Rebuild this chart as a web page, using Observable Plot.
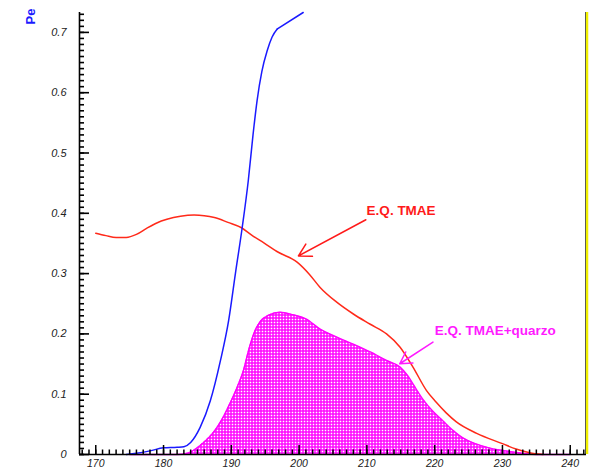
<!DOCTYPE html>
<html><head><meta charset="utf-8">
<script src="https://cdn.jsdelivr.net/npm/d3@7"></script>
<script src="https://cdn.jsdelivr.net/npm/@observablehq/plot@0.6"></script>
<style>body{margin:0;background:#fff}</style>
</head><body><div id="chart"></div>
<script>
// Axis configuration
const xDomain = [167.6, 242.4];
const yDomain = [0, 0.733];
const xMajor = [170, 180, 190, 200, 210, 220, 230, 240];
const xTickLabels = ["170", "180", "190", "200", "210", "220", "230", "240"];
const yMajor = [0, 0.1, 0.2, 0.3, 0.4, 0.5, 0.6, 0.7];
const yTickLabels = ["0", "0.1", "0.2", "0.3", "0.4", "0.5", "0.6", "0.7"];
const xMinor = d3.range(168, 243, 1);
const yMinor = d3.range(0, 74).map(i => i / 100);
const yLabel = "Pe";

// E.Q. TMAE (red)
const tmaeX = [170, 171.5, 173, 174.5, 176, 177.5, 179, 180.5, 182.5, 184.5, 186, 187.5, 189.5, 191.5, 193, 194.8, 197, 199.7, 201.5, 203.1, 205.5, 208, 210.5, 212.9, 214.9, 216.8, 218.8, 220.2, 221.7, 223.2, 226.2, 230, 232, 234, 236];
const tmaeY = [0.367, 0.363, 0.360, 0.360, 0.365, 0.375, 0.384, 0.390, 0.395, 0.397, 0.396, 0.393, 0.385, 0.376, 0.364, 0.351, 0.335, 0.319, 0.299, 0.277, 0.253, 0.233, 0.216, 0.200, 0.178, 0.145, 0.106, 0.087, 0.069, 0.054, 0.035, 0.018, 0.009, 0.003, 0];

// blue curve (smooth rise, then a straight segment after the knee)
const blueX = [174.5, 176, 178, 180, 182, 183, 184, 185.4, 186.9, 188.4, 189.6, 190.6, 191.6, 192.5, 193.2, 193.8, 194.5, 195.3, 196, 196.8];
const blueY = [0, 0.002, 0.006, 0.011, 0.012, 0.013, 0.020, 0.045, 0.089, 0.156, 0.222, 0.300, 0.376, 0.454, 0.530, 0.587, 0.635, 0.670, 0.692, 0.706];
const blueTailX = [196.8, 200.6];
const blueTailY = [0.706, 0.733];

// E.Q. TMAE+quarzo (magenta, hatched)
const quarzoX = [175, 180, 182, 183.5, 185.4, 187.9, 188.9, 189.85, 190.8, 191.8, 192.6, 193.3, 194.3, 195.5, 197.2, 199, 201, 203.1, 205.5, 208, 210.5, 212.9, 214.9, 216, 216.8, 218.3, 219.7, 221.2, 222.6, 224.1, 226, 228, 231, 233, 235, 240];
const quarzoY = [0, 0, 0, 0.002, 0.015, 0.045, 0.064, 0.086, 0.110, 0.140, 0.175, 0.200, 0.221, 0.231, 0.236, 0.232, 0.225, 0.208, 0.195, 0.183, 0.170, 0.156, 0.145, 0.131, 0.117, 0.091, 0.072, 0.056, 0.041, 0.028, 0.018, 0.011, 0.005, 0.002, 0, 0];

// annotations
const labelTexts = ["E.Q. TMAE", "E.Q. TMAE+quarzo"];
const labelX = [209.96, 220.0];
const labelY = [0.398, 0.1974];
const labelColors = ["#ff1a1a", "#ff1aff"];
const arrowX1 = [209.85, 219.75];
const arrowY1 = [0.3893, 0.1863];
const arrowX2 = [199.9, 214.85];
const arrowY2 = [0.3293, 0.1505];

const tmae = tmaeX.map((x, i) => ({x, y: tmaeY[i]}));
const blue = blueX.map((x, i) => ({x, y: blueY[i]}));
const blueTail = blueTailX.map((x, i) => ({x, y: blueTailY[i]}));
const quarzo = quarzoX.map((x, i) => ({x, y: quarzoY[i]}));
const labels = labelTexts.map((text, i) => ({text, x: labelX[i], y: labelY[i], color: labelColors[i]}));
const arrows = arrowX1.map((x1, i) => ({x1, y1: arrowY1[i], x2: arrowX2[i], y2: arrowY2[i], color: labelColors[i]}));

const W = 589, H = 469, mL = 79, mR = 3, mT = 12, mB = 15;

const chart = Plot.plot({
  width: W, height: H,
  marginLeft: mL, marginRight: mR, marginTop: mT, marginBottom: mB,
  x: {domain: xDomain, label: null},
  y: {domain: yDomain, label: null},
  style: {fontFamily: "'Liberation Sans', Arial, sans-serif", background: "white", overflow: "visible"},
  marks: [
    Plot.areaY(quarzo, {x: "x", y: "y", fill: "url(#hatch)", curve: "monotone-x"}),
    Plot.line(quarzo, {x: "x", y: "y", stroke: "#ff00ff", strokeWidth: 1.4, curve: "monotone-x"}),
    Plot.line(tmae, {x: "x", y: "y", stroke: "#ff2a1a", strokeWidth: 1.5, curve: "monotone-x"}),
    Plot.line(blue, {x: "x", y: "y", stroke: "#1a1aff", strokeWidth: 1.5, curve: "monotone-x"}),
    Plot.line(blueTail, {x: "x", y: "y", stroke: "#1a1aff", strokeWidth: 1.5}),
    Plot.ruleX([xDomain[1]], {stroke: "#f0f000", strokeWidth: 2.5, dx: 0.5}),
    Plot.ruleX([xDomain[1]], {stroke: "#333", strokeWidth: 0.8, dx: -1}),
    Plot.ruleX([xDomain[0]], {stroke: "#000", strokeWidth: 1.6}),
    Plot.ruleY([0], {stroke: "#000", strokeWidth: 1.6}),
    // inward ticks: outward axis ticks shifted into the frame
    Plot.axisY({ticks: yMajor, tickSize: 10, dx: 10, fill: "none", stroke: "#000", strokeWidth: 1.6, label: null}),
    Plot.axisY({ticks: yMinor, tickSize: 5, dx: 5, fill: "none", stroke: "#000", strokeWidth: 1.6, label: null}),
    Plot.axisX({ticks: xMajor, tickSize: 9, dy: -9, fill: "none", stroke: "#000", strokeWidth: 1.5, label: null}),
    Plot.axisX({ticks: xMinor, tickSize: 4.5, dy: -4.5, fill: "none", stroke: "#000", strokeWidth: 1.5, label: null}),
    Plot.axisY({ticks: yMajor, tickSize: 0, tickPadding: 13, tickFormat: (d, i) => yTickLabels[i], fontStyle: "italic", fontSize: 11, fill: "#222", label: null}),
    Plot.axisX({ticks: xMajor, tickSize: 0, tickPadding: 5, tickFormat: (d, i) => xTickLabels[i], fontStyle: "italic", fontSize: 10.5, fill: "#222", label: null}),
    Plot.arrow(arrows, {x1: "x1", y1: "y1", x2: "x2", y2: "y2", stroke: "color", strokeWidth: 1.5, headLength: 14, headAngle: 60}),
    Plot.text(labels, {x: "x", y: "y", text: "text", fill: "color", textAnchor: "start", lineAnchor: "bottom", fontSize: 13.5, fontWeight: "bold"}),
    Plot.text([yLabel], {frameAnchor: "top-left", rotate: -90, textAnchor: "start", lineAnchor: "bottom", dx: -45, dy: 12, fill: "#1a1aff", fontWeight: "bold", fontSize: 13})
  ]
});

// hatch pattern definition
const svgNS = "http://www.w3.org/2000/svg";
const defs = document.createElementNS(svgNS, "defs");
defs.innerHTML = '<pattern id="hatch" width="3" height="3" patternUnits="userSpaceOnUse"><rect width="3" height="3" fill="#ff00ff"/><rect x="0.7" y="0.7" width="1.6" height="1.6" fill="#ffffff"/></pattern>';
chart.insertBefore(defs, chart.firstChild);
document.getElementById("chart").appendChild(chart);
</script>
</body></html>
